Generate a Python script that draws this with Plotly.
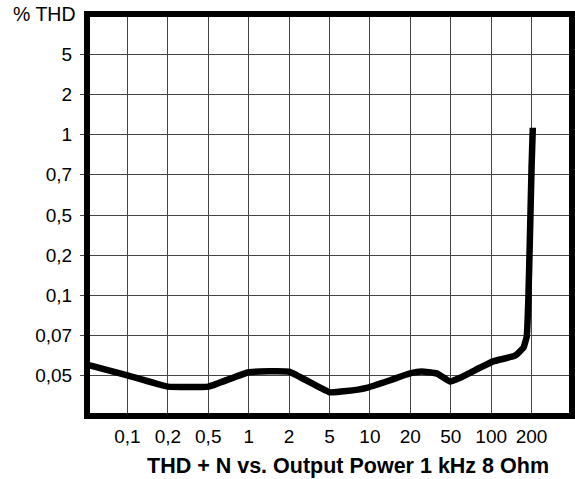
import plotly.graph_objects as go

# Axis categories (evenly spaced, log-like scales printed as labels)
x_labels = ["0,1", "0,2", "0,5", "1", "2", "5", "10", "20", "50", "100", "200"]
x_pos = [1, 2, 3, 4, 5, 6, 7, 8, 9, 10, 11]
y_labels = ["0,05", "0,07", "0,1", "0,2", "0,5", "0,7", "1", "2", "5"]
y_pos = [1, 2, 3, 4, 5, 6, 7, 8, 9]

# Curve, in grid-index units
curve_x = [0.0, 1.0, 2.0, 3.0, 4.0, 5.0, 6.0, 6.42, 6.92, 7.5, 7.99, 8.28, 8.65,
           8.98, 9.23, 9.72, 10.05, 10.59, 10.8, 10.88, 10.92, 10.96, 11.0, 11.03]
curve_y = [1.28, 1.01, 0.73, 0.73, 1.09, 1.10, 0.59, 0.62, 0.70, 0.89, 1.06, 1.11, 1.06,
           0.86, 0.95, 1.20, 1.36, 1.50, 1.70, 1.98, 2.89, 4.5, 6.2, 7.17]

FONT = "Liberation Sans, Arial, sans-serif"

fig = go.Figure()
fig.add_trace(go.Scatter(
    x=curve_x, y=curve_y, mode="lines",
    line=dict(color="black", width=6.5, shape="spline", smoothing=0.3),
    hoverinfo="skip", showlegend=False,
))

fig.update_layout(
    width=575, height=479,
    margin=dict(l=87, r=3, t=14, b=62.5),
    paper_bgcolor="white", plot_bgcolor="white",
    font=dict(family=FONT, size=19, color="black"),
    xaxis=dict(
        range=[0, 12], tickvals=x_pos, ticktext=x_labels,
        showgrid=True, gridcolor="#444", gridwidth=1,
        zeroline=False, showline=False, ticks="",
        ticklabelstandoff=7,
        tickfont=dict(size=19), fixedrange=True,
    ),
    yaxis=dict(
        range=[0, 10], tickvals=y_pos, ticktext=y_labels,
        showgrid=True, gridcolor="#444", gridwidth=1,
        zeroline=False, showline=False, ticks="outside", ticklen=6,
        tickcolor="#444", tickwidth=1, ticklabelstandoff=4,
        tickfont=dict(size=19), fixedrange=True,
    ),
    shapes=[dict(type="rect", xref="paper", yref="paper", x0=0, x1=1, y0=0, y1=1,
                 line=dict(color="black", width=6), layer="above")],
    annotations=[
        dict(text="% THD", xref="paper", yref="paper", x=0, y=1, xshift=-10,
             xanchor="right", yanchor="middle", showarrow=False,
             font=dict(size=19.5, family=FONT)),
        dict(text="<b>THD + N vs. Output Power 1 kHz 8 Ohm</b>", xref="paper",
             yref="paper", x=0.538, y=0, yshift=-50, xanchor="center",
             yanchor="middle", showarrow=False, font=dict(size=21.5, family=FONT)),
    ],
)

fig.write_html("out.html", config={"displayModeBar": False},
               post_script="document.body.style.margin='0';")
